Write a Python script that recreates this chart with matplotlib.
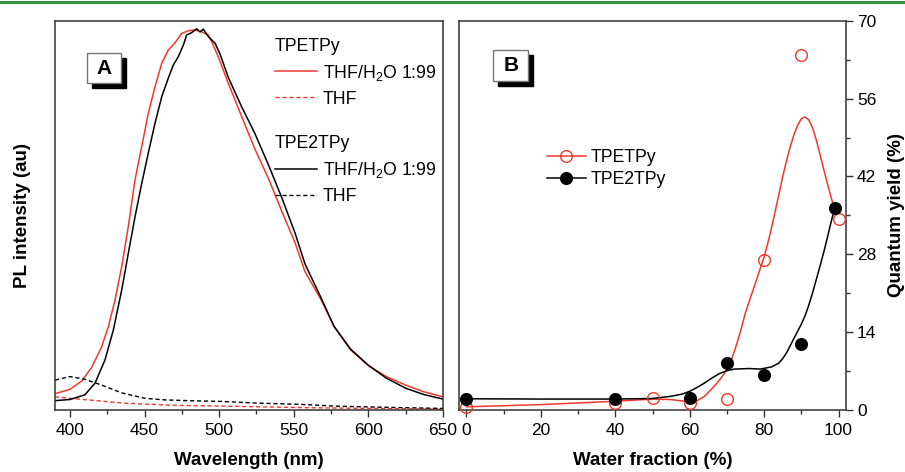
import matplotlib
matplotlib.use("Agg")
import matplotlib.pyplot as plt
from matplotlib.lines import Line2D
from matplotlib.patches import Rectangle
from matplotlib.ticker import MultipleLocator

plt.rcParams['font.family'] = ['Liberation Sans', 'DejaVu Sans']
plt.rcParams['mathtext.default'] = 'regular'

RED = '#f0382c'
GREEN = '#2f9a3d'
SPINE = '#333333'

# ---- panel A: PL spectra (normalised) ----
wl_r = [390, 400, 408, 414.6, 421.3, 425.7, 430.2, 434.7, 439.1, 443.6, 448.1, 452.5,
        457, 461.5, 465.9, 470.4, 474.9, 479.3, 483.8, 488.3, 492.7, 495, 499.4,
        506.1, 515.1, 524, 533, 542, 550.8, 557.5, 568, 577, 588, 600, 612, 625,
        637, 650]
tpetpy_agg = [4.1, 5.2, 7.4, 10.9, 16.2, 21.3, 28.2, 36.8, 47.1, 59.1, 67.7, 76.2,
              83.1, 89.1, 92.5, 94.4, 96.8, 97.5, 97.7, 97.2, 96.4, 94.7, 90.8,
              84.0, 75.4, 67.0, 59.5, 51.0, 43.0, 35.5, 28.5, 21.4, 15.4, 11.3, 8.5,
              6.3, 4.6, 3.3]
wl_k = [390, 400, 410, 416.8, 423.5, 429.1, 434.7, 439.1, 443.6, 448.1, 452.5, 457,
        461.5, 465.9, 469.3, 472.6, 476, 478.2, 481.6, 484.9, 487.2, 489.4, 492.7,
        497.2, 500.6, 506.1, 515.1, 524, 533, 542, 550.8, 557.5, 568, 577, 588, 600,
        612, 625, 637, 650]
tpe2tpy_agg = [2.3, 2.6, 3.8, 6.8, 12.8, 20.5, 30.8, 40.2, 49.6, 58.2, 66.0, 73.7,
               80.5, 85.3, 88.7, 90.8, 93.8, 96.4, 97.0, 98.0, 97.2, 97.9, 96.0,
               94.3, 91.5, 85.5, 77.9, 71.0, 63.0, 54.5, 45.5, 37.5, 29.0, 21.4,
               15.6, 11.4, 8.1, 5.5, 3.9, 2.7]
wl_thf_k = [390, 400, 410, 421.3, 434.7, 450.3, 463.7, 479.3, 501.7, 524, 557.5,
            577, 610, 650]
tpe2tpy_thf = [7.6, 8.5, 7.8, 6.3, 4.3, 2.9, 2.5, 2.3, 2.1, 1.7, 1.3, 0.9, 0.6, 0.3]
wl_thf_r = [390, 400, 412.3, 434.7, 468.2, 501.7, 557.5, 600, 650]
tpetpy_thf = [3.3, 2.9, 2.5, 1.7, 1.1, 0.9, 0.5, 0.3, 0.1]

# ---- panel B: quantum yield vs water fraction ----
fw_tpetpy = [0, 40, 50, 60, 70, 80, 90, 100]
qy_tpetpy = [0.5, 1.1, 2.0, 1.2, 1.9, 27.0, 63.9, 34.3]
fw_tpe2tpy = [0, 40, 60, 70, 80, 90, 99]
qy_tpe2tpy = [1.95, 1.95, 2.0, 8.4, 6.3, 11.8, 36.4]

# guide-to-the-eye curves as drawn in the figure
fit_x_r = [0, 20, 40, 50, 55, 60, 62, 64, 66, 68, 70, 71, 72, 73, 74, 75, 77, 79,
           80, 81, 82, 83, 84, 85, 86, 87, 88, 89, 90, 91, 92, 93, 94, 95, 96, 97,
           98, 99]
fit_y_r = [0.5, 0.9, 1.5, 1.9, 1.8, 1.4, 1.6, 2.4, 3.8, 5.3, 7.2, 8.7, 10.5, 12.6,
           15.0, 17.5, 21.5, 25.5, 27.5, 30.0, 32.8, 35.8, 38.9, 42.0, 44.8, 47.3,
           49.5, 51.2, 52.4, 52.7, 52.2, 50.8, 48.6, 46.0, 43.3, 40.7, 38.2, 36.0]
fit_x_k = [0, 20, 40, 50, 55, 58, 60, 62, 64, 66, 68, 70, 72, 76, 79, 82, 84, 85,
           86, 87, 88, 89, 90, 91, 92, 93, 94, 95, 96, 97, 98, 99]
fit_y_k = [1.95, 1.9, 1.9, 2.0, 2.4, 2.8, 3.3, 4.0, 4.8, 5.7, 6.5, 7.0, 7.3, 7.4,
           7.3, 7.7, 8.4, 9.2, 10.2, 11.5, 12.8, 14.1, 15.4, 16.9, 18.8, 21.0, 23.4,
           25.8, 28.3, 31.0, 33.8, 36.4]


def panel_label(ax, x0, y0, w, h, letter):
    bb = ax.get_position()
    dx = 5 / (bb.width * 905)
    dy = 5 / (bb.height * 472)
    ax.add_patch(Rectangle((x0 + dx, y0 - dy), w, h, transform=ax.transAxes,
                           facecolor='black', edgecolor='black', zorder=5))
    ax.add_patch(Rectangle((x0, y0), w, h, transform=ax.transAxes,
                           facecolor='white', edgecolor='#777777', lw=1, zorder=6))
    ax.text(x0 + w / 2, y0 + h / 2, letter, transform=ax.transAxes, ha='center',
            va='center', fontsize=15, fontweight='bold', zorder=7)


fig = plt.figure(figsize=(9.05, 4.72), dpi=100)
fig.add_artist(Line2D([0, 1], [0.996, 0.996], transform=fig.transFigure,
                      color=GREEN, lw=2.2))

ax1 = fig.add_axes([0.0608, 0.1322, 0.4287, 0.8233])
ax2 = fig.add_axes([0.5072, 0.1322, 0.4276, 0.8233])

for ax in (ax1, ax2):
    for sp in ax.spines.values():
        sp.set_color(SPINE)
        sp.set_linewidth(1.1)
    ax.tick_params(which='major', length=5, width=1, colors=SPINE, labelcolor='black',
                   labelsize=12.5, pad=5)
    ax.tick_params(which='minor', length=3, width=1, colors=SPINE)

# panel A
ax1.plot(wl_r, tpetpy_agg, color=RED, lw=1.1)
ax1.plot(wl_thf_r, tpetpy_thf, color=RED, lw=1.0, ls=(0, (3, 2)))
ax1.plot(wl_k, tpe2tpy_agg, color='black', lw=1.1)
ax1.plot(wl_thf_k, tpe2tpy_thf, color='black', lw=1.0, ls=(0, (3, 2)))
ax1.set_xlim(390, 650)
ax1.set_ylim(0, 100)
ax1.set_yticks([])
ax1.xaxis.set_major_locator(MultipleLocator(50))
ax1.xaxis.set_minor_locator(MultipleLocator(25))
ax1.set_xlabel('Wavelength (nm)', fontsize=13.5, fontweight='bold', labelpad=10)
ax1.set_ylabel('PL intensity (au)', fontsize=13.5, fontweight='bold', labelpad=17)

lg_kw = dict(frameon=False, fontsize=12.7, title_fontsize=12.7, handlelength=2.4,
             handletextpad=0.3, labelspacing=0.45, borderpad=0, borderaxespad=0,
             alignment='left', loc='upper left')
h_r = [Line2D([], [], color=RED, lw=1.1), Line2D([], [], color=RED, lw=1.0, ls=(0, (3, 2)))]
h_k = [Line2D([], [], color='black', lw=1.1),
       Line2D([], [], color='black', lw=1.0, ls=(0, (3, 2)))]
labels = ['THF/H$_2$O 1:99', 'THF']
leg1 = ax1.legend(h_r, labels, title='TPETPy', bbox_to_anchor=(0.567, 0.957), **lg_kw)
ax1.add_artist(leg1)
ax1.legend(h_k, labels, title='TPE2TPy', bbox_to_anchor=(0.567, 0.707), **lg_kw)
panel_label(ax1, 0.0817, 0.8397, 0.0876, 0.0772, 'A')

# panel B
ax2.plot(fit_x_r, fit_y_r, color=RED, lw=1.1, zorder=2)
ax2.plot(fit_x_k, fit_y_k, color='black', lw=1.1, zorder=2)
ax2.plot(fw_tpetpy, qy_tpetpy, ls='none', marker='o', ms=8.4, mfc='none', mec=RED,
         mew=1.0, zorder=3, clip_on=False)
ax2.plot(fw_tpe2tpy, qy_tpe2tpy, ls='none', marker='o', ms=8.4, mfc='black', mec='black',
         zorder=4, clip_on=False)
ax2.set_xlim(-2, 102)
ax2.set_ylim(0, 70)
ax2.xaxis.set_major_locator(MultipleLocator(20))
ax2.xaxis.set_minor_locator(MultipleLocator(10))
ax2.yaxis.set_major_locator(MultipleLocator(14))
ax2.yaxis.set_minor_locator(MultipleLocator(7))
ax2.yaxis.tick_right()
ax2.yaxis.set_label_position('right')
ax2.tick_params(axis='y', pad=3)
ax2.set_xlabel('Water fraction (%)', fontsize=13.5, fontweight='bold', labelpad=10)
ax2.set_ylabel('Quantum yield (%)', fontsize=13.5, fontweight='bold', labelpad=8,
               rotation=90)

hb = [Line2D([], [], color=RED, lw=1.1, marker='o', ms=8.4, mfc='none', mec=RED),
      Line2D([], [], color='black', lw=1.1, marker='o', ms=8.4, mfc='black')]
ax2.legend(hb, ['TPETPy', 'TPE2TPy'], frameon=False, fontsize=12.7, handlelength=2.2,
           handletextpad=0.3, labelspacing=0.3, borderpad=0, borderaxespad=0,
           numpoints=1, loc='center left', bbox_to_anchor=(0.227, 0.62))
panel_label(ax2, 0.0886, 0.8456, 0.0904, 0.0798, 'B')

fig.savefig('out.png', dpi=100)
